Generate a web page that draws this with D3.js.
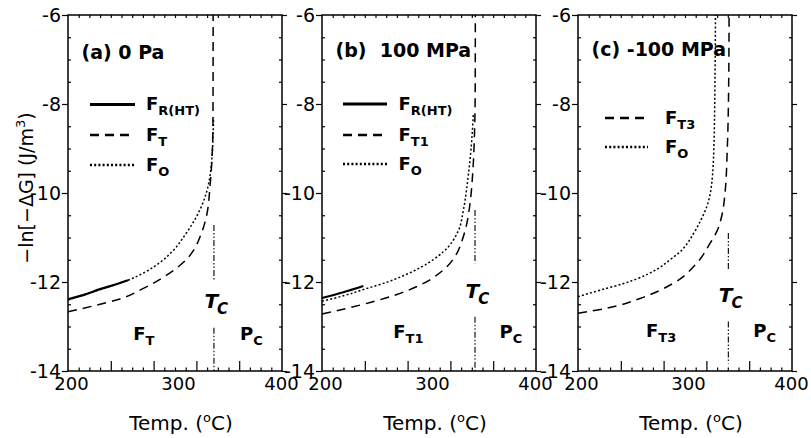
<!DOCTYPE html>
<html>
<head>
<meta charset="utf-8">
<script src="https://cdn.jsdelivr.net/npm/d3@7"></script>
<style>
  body { margin: 0; background: #fff; }
  svg { display: block; }
  text { font-family: "DejaVu Sans", "Liberation Sans", sans-serif; fill: #000; }
</style>
</head>
<body>
<svg id="chart" width="811" height="438"></svg>
<script>
// −ln[−ΔG] against temperature for three stress states, with the Curie temperature marked.

// Axis ticks
const xLabelTicks = [200, 300, 400];
const xMajorTicks = [240, 280, 320, 360];
const xMinorTicks = d3.range(210, 400, 10).filter(t => t % 40 !== 0);
const yTicks = [-6, -8, -10, -12, -14];
const yMinorTicks = d3.range(-13.5, -6, 0.5).filter(v => v % 2 !== 0);

// (a) 0 Pa  — points are [temperature °C, −ln(−ΔG)]
const a_FR = [[200, -12.39], [215, -12.29], [230, -12.16], [245, -12.05], [256, -11.96]];
const a_FT = [[200, -12.67], [225, -12.53], [248.6, -12.38], [270, -12.15], [295, -11.80], [310, -11.51],
              [317, -11.30], [324, -10.95], [329.6, -10.50], [332.7, -9.85], [334.9, -9.05], [335.5, -8.3], [335.65, -6]];
const a_FO = [[200, -12.40], [230, -12.17], [256, -11.96], [272, -11.78], [286, -11.56], [298, -11.30],
              [310, -10.92], [318, -10.62], [324, -10.34], [329, -10.02], [332, -9.72], [334.3, -9.28], [335.5, -8.76], [336, -8.3]];
const a_Tc = 336.4;
const a_TcSpans = [[-10.72, -11.96], [-13.03, -14]];

// (b) 100 MPa
const b_FR = [[200, -12.36], [220, -12.23], [238.6, -12.09]];
const b_FT1 = [[200, -12.72], [245, -12.46], [270, -12.28], [291.6, -12.07], [313.4, -11.73], [325.9, -11.36],
               [331, -11.06], [335.2, -10.70], [338.5, -10.20], [341, -9.5], [342.6, -8.6], [343.2, -7.6], [343.3, -6]];
const b_FO = [[200, -12.43], [220, -12.31], [240, -12.16], [260, -12.01], [276, -11.86], [291.6, -11.68],
              [313.4, -11.32], [327.4, -10.85], [332, -10.40], [336, -9.75], [339.5, -8.95], [341.5, -8.2]];
const b_Tc = 343;
const b_TcSpans = [[-10.38, -11.58], [-12.78, -14]];

// (c) −100 MPa
const c_FT3 = [[200, -12.70], [226.8, -12.59], [257.9, -12.37], [289, -12.03], [310.9, -11.58], [323.4, -11.13],
               [330, -10.85], [334.5, -10.50], [337.4, -10.0], [339.6, -8.95], [340.8, -7.6], [341.2, -6]];
const c_FO = [[200, -12.33], [224, -12.16], [242, -12.04], [255, -11.93], [274, -11.71], [286, -11.50], [295, -11.33],
              [308, -10.91], [315, -10.60], [320.3, -10.31], [325, -9.78], [327.1, -8.88], [328, -7.5], [328.5, -6]];
const c_Tc = 340.5;
const c_TcSpans = [[-10.9, -11.74], [-12.89, -13.83]];

// Line styles
const styles = {
  solid:   { width: 2.2, dash: null },
  dashed:  { width: 1.5, dash: "9,6" },
  dotted:  { width: 1.5, dash: "2,2.2" },
  dashdot: { width: 1.1, dash: "6,2,1.5,2,1.5,2" }
};

const panels = [
  {
    left: 68, title: "(a)\u00a00 Pa", titleY: 59,
    series: [{ data: a_FO, style: "dotted" }, { data: a_FT, style: "dashed" }, { data: a_FR, style: "solid" }],
    legend: { x0: 22, x1: 67, tx: 78, rows: [
      { y: 104.5, style: "solid", sub: "R(HT)" },
      { y: 135, style: "dashed", sub: "T" },
      { y: 165, style: "dotted", sub: "O" } ] },
    tc: a_Tc, tcSpans: a_TcSpans, tcLabelY: -12.58,
    phase: { fT: 261, fSub: "T", pT: 360.7, v: -13.30 }
  },
  {
    left: 322, title: "(b)\u00a0\u00a0100 MPa", titleY: 57,
    series: [{ data: b_FO, style: "dotted" }, { data: b_FT1, style: "dashed" }, { data: b_FR, style: "solid" }],
    legend: { x0: 21, x1: 65, tx: 76.5, rows: [
      { y: 104, style: "solid", sub: "R(HT)" },
      { y: 135, style: "dashed", sub: "T1" },
      { y: 164, style: "dotted", sub: "O" } ] },
    tc: b_Tc, tcSpans: b_TcSpans, tcLabelY: -12.36,
    phase: { fT: 266.6, fSub: "T1", pT: 366, v: -13.26 }
  },
  {
    left: 578, title: "(c) -100 MPa", titleY: 56,
    series: [{ data: c_FO, style: "dotted" }, { data: c_FT3, style: "dashed" }],
    legend: { x0: 27, x1: 70, tx: 87, rows: [
      { y: 118, style: "dashed", sub: "T3" },
      { y: 147, style: "dotted", sub: "O" } ] },
    tc: c_Tc, tcSpans: c_TcSpans, tcLabelY: -12.44,
    phase: { fT: 263.6, fSub: "T3", pT: 363.8, v: -13.24 }
  }
];

const svg = d3.select("#chart");
const W = 214, plotTop = 15, plotBottom = 371;
const y = d3.scaleLinear().domain([-14, -6]).range([plotBottom, plotTop]);

function applyStyle(sel, key) {
  const s = styles[key];
  sel.attr("fill", "none").attr("stroke", "#000").attr("stroke-width", s.width);
  if (s.dash) sel.attr("stroke-dasharray", s.dash);
  return sel;
}

function cleanAxis(g, size) {
  g.select(".domain").remove();
  g.selectAll("line").attr("stroke", "#000").attr("stroke-width", 1.2);
  g.selectAll("text").attr("font-size", size || 19).attr("font-family", "DejaVu Sans, sans-serif").attr("fill", "#000");
  g.attr("font-family", null).attr("font-size", null);
}

panels.forEach(p => {
  const x = d3.scaleLinear().domain([200, 400]).range([p.left, p.left + W]);
  const g = svg.append("g");

  // ticks
  const xl = g.append("g").attr("transform", `translate(0,${plotBottom})`)
    .call(d3.axisBottom(x).tickValues(xLabelTicks).tickSize(0).tickPadding(6)).call(cleanAxis, 18);
  xl.selectAll("text").attr("dx", d => (d === 400 ? -1 : 3));
  g.append("g").attr("transform", `translate(0,${plotBottom})`)
    .call(d3.axisBottom(x).tickValues(xMajorTicks).tickSize(-10).tickFormat("")).call(cleanAxis);
  g.append("g").attr("transform", `translate(0,${plotBottom})`)
    .call(d3.axisBottom(x).tickValues(xMinorTicks).tickSize(-3.5).tickFormat("")).call(cleanAxis);
  g.append("g").attr("transform", `translate(0,${plotTop})`)
    .call(d3.axisTop(x).tickValues(xMinorTicks.concat(xMajorTicks)).tickSize(-3).tickFormat("")).call(cleanAxis);
  g.append("g").attr("transform", `translate(${p.left},0)`)
    .call(d3.axisLeft(y).tickValues(yTicks).tickSize(6).tickPadding(1).tickFormat(d3.format("d"))).call(cleanAxis);
  g.append("g").attr("transform", `translate(${p.left},0)`)
    .call(d3.axisLeft(y).tickValues(yMinorTicks).tickSize(-3).tickFormat("")).call(cleanAxis);
  g.append("g").attr("transform", `translate(${p.left + W},0)`)
    .call(d3.axisRight(y).tickValues(yTicks).tickSize(5).tickFormat("")).call(cleanAxis);
  g.append("g").attr("transform", `translate(${p.left + W},0)`)
    .call(d3.axisRight(y).tickValues(yMinorTicks).tickSize(-3).tickFormat("")).call(cleanAxis);
  // hyphen-style minus signs on the y labels
  g.selectAll("text").each(function () {
    const t = d3.select(this); t.text(t.text().replace("\u2212", "-"));
  });

  // frame
  g.append("rect").attr("x", p.left).attr("y", plotTop).attr("width", W).attr("height", plotBottom - plotTop)
    .attr("fill", "none").attr("stroke", "#000").attr("stroke-width", 1.5);

  // curves
  const line = d3.line().x(d => x(d[0])).y(d => y(d[1])).curve(d3.curveMonotoneY);
  p.series.forEach(s => {
    g.append("path").datum(s.data).attr("d", line).call(applyStyle, s.style).attr("stroke-linecap", "butt");
  });

  // Curie temperature marker
  p.tcSpans.forEach(sp => {
    g.append("line").attr("x1", x(p.tc)).attr("x2", x(p.tc)).attr("y1", y(sp[0])).attr("y2", y(sp[1]))
      .call(applyStyle, "dashdot");
  });
  const tcText = g.append("text").attr("x", x(p.tc) - 9.5).attr("y", y(p.tcLabelY))
    .attr("font-size", 20).attr("font-weight", "bold").attr("font-style", "italic");
  tcText.append("tspan").text("T");
  tcText.append("tspan").attr("font-size", 15).attr("dx", -1).attr("dy", 6).text("C");

  // phase region labels
  const fLab = g.append("text").attr("x", x(p.phase.fT)).attr("y", y(p.phase.v))
    .attr("font-size", 18).attr("font-weight", "bold");
  fLab.append("tspan").text("F");
  fLab.append("tspan").attr("font-size", 13).attr("dy", 5).text(p.phase.fSub);
  const pLab = g.append("text").attr("x", x(p.phase.pT)).attr("y", y(p.phase.v))
    .attr("font-size", 18).attr("font-weight", "bold");
  pLab.append("tspan").text("P");
  pLab.append("tspan").attr("font-size", 13).attr("dy", 5).text("C");

  // panel title
  g.append("text").attr("x", p.left + 13.5).attr("y", p.titleY)
    .attr("font-size", 19).attr("font-weight", "bold").text(p.title);

  // legend
  p.legend.rows.forEach(r => {
    g.append("line").attr("x1", p.left + p.legend.x0).attr("x2", p.left + p.legend.x1)
      .attr("y1", r.y).attr("y2", r.y).call(applyStyle, r.style)
      .attr("stroke-width", styles[r.style].width + 0.8);
    const t = g.append("text").attr("x", p.left + p.legend.tx).attr("y", r.y + 5.5)
      .attr("font-size", 18).attr("font-weight", "bold");
    t.append("tspan").text("F");
    t.append("tspan").attr("font-size", 13).attr("dy", 5).text(r.sub);
  });

  // x axis title
  const xt = g.append("text").attr("x", p.left + W / 2 + 6).attr("y", 430)
    .attr("text-anchor", "middle").attr("font-size", 20);
  xt.append("tspan").text("Temp. (");
  xt.append("tspan").attr("font-size", 13).attr("dy", -8).text("o");
  xt.append("tspan").attr("dy", 8).text("C)");
});

// y axis title
const yt = svg.append("text").attr("transform", "translate(33,188) rotate(-90)")
  .attr("text-anchor", "middle").attr("font-size", 19);
yt.append("tspan").text("\u2212ln[\u2212\u0394G] (J/m");
yt.append("tspan").attr("font-size", 13).attr("dy", -8).text("3");
yt.append("tspan").attr("dy", 8).text(")");
</script>
</body>
</html>
